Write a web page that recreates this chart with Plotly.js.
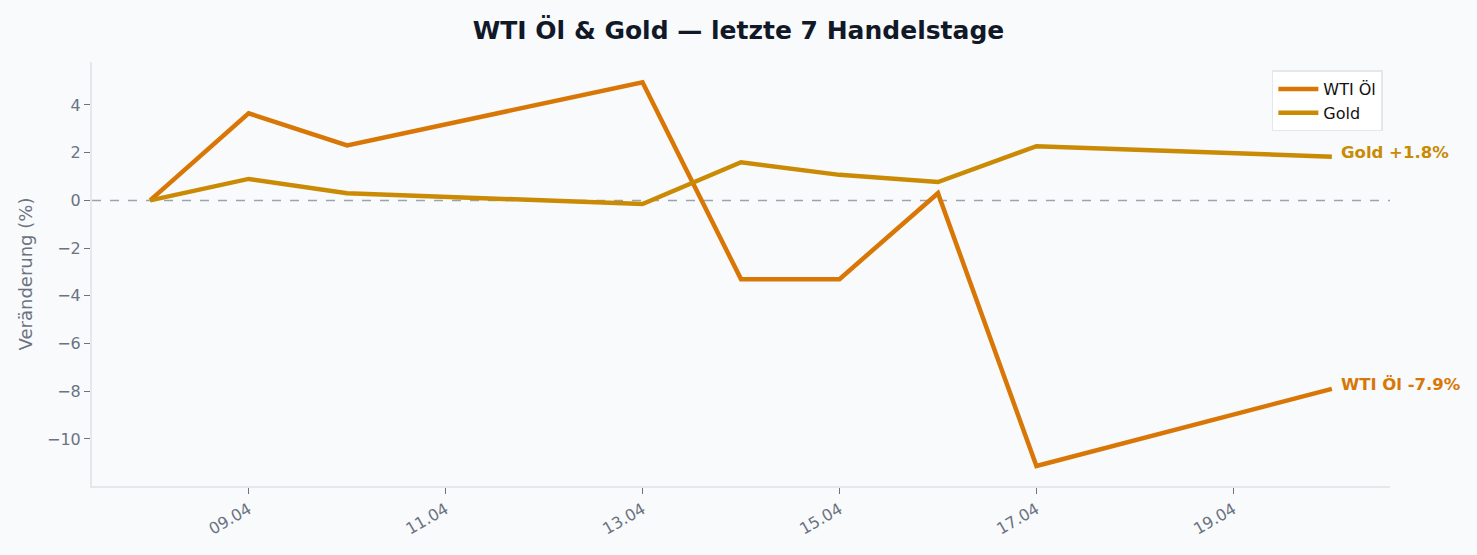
<!DOCTYPE html>
<html>
<head>
<meta charset="utf-8">
<script src="https://cdn.plot.ly/plotly-3.0.1.min.js"></script>
<style>
  body { margin: 0; background: #f8fafc; }
  #chart { width: 1477px; height: 555px; }
</style>
</head>
<body>
<div id="chart"></div>
<script>
// Handelstage (April)
const days = ['2025-04-08', '2025-04-09', '2025-04-10', '2025-04-13', '2025-04-14',
              '2025-04-15', '2025-04-16', '2025-04-17', '2025-04-20'];
// Veränderung in % seit Start
const oilChange  = [0, 3.65, 2.3, 4.95, -3.3, -3.3, 0.3, -11.13, -7.9];
const goldChange = [0, 0.9, 0.3, -0.15, 1.6, 1.07, 0.77, 2.27, 1.83];
const tickDays = ['2025-04-09', '2025-04-11', '2025-04-13', '2025-04-15', '2025-04-17', '2025-04-19'];
const tickText = ['09.04', '11.04', '13.04', '15.04', '17.04', '19.04'];

const oilColor = '#d97706';
const goldColor = '#ca8a04';
const grey = '#6b7280';

const traces = [
  { x: days, y: oilChange, name: 'WTI Öl', type: 'scatter', mode: 'lines',
    line: { color: oilColor, width: 4.5 } },
  { x: days, y: goldChange, name: 'Gold', type: 'scatter', mode: 'lines',
    line: { color: goldColor, width: 4.5 } }
];

const last = days.length - 1;
const fmt = v => (v >= 0 ? '+' : '') + v.toFixed(1) + '%';

const layout = {
  width: 1477,
  height: 555,
  paper_bgcolor: '#f8fafc',
  plot_bgcolor: '#f8fafc',
  font: { family: 'DejaVu Sans, sans-serif', color: grey, size: 15 },
  margin: { l: 92, r: 87, t: 62, b: 69 },
  title: {
    text: '<b>WTI Öl &amp; Gold — letzte 7 Handelstage</b>',
    font: { size: 25, color: '#111827' },
    x: 0.5, xanchor: 'center', y: 0.945, yanchor: 'middle'
  },
  xaxis: {
    type: 'date',
    range: ['2025-04-07 09:50', '2025-04-20 14:10'],
    tickvals: tickDays,
    ticktext: tickText,
    tickangle: -30,
    ticks: 'outside', ticklen: 6, tickcolor: grey,
    showgrid: false, zeroline: false,
    showline: true, linecolor: '#e5e7eb', linewidth: 2,
    tickfont: { size: 16, color: grey }
  },
  yaxis: {
    range: [-11.97, 5.8],
    tickvals: [-10, -8, -6, -4, -2, 0, 2, 4],
    ticktext: ['−10', '−8', '−6', '−4', '−2', '0', '2', '4'],
    ticks: 'outside', ticklen: 6, tickcolor: grey,
    showgrid: false, zeroline: false,
    showline: true, linecolor: '#e5e7eb', linewidth: 2,
    tickfont: { size: 16, color: grey },
    title: { text: 'Veränderung (%)', font: { size: 18, color: grey }, standoff: 10 }
  },
  shapes: [{
    type: 'line', xref: 'paper', yref: 'y', x0: 0, x1: 1, y0: 0, y1: 0,
    line: { color: '#9ca3af', width: 1.5, dash: 'dash' }, layer: 'below'
  }],
  annotations: [
    { x: days[last], y: goldChange[last], xref: 'x', yref: 'y',
      text: '<b>Gold ' + fmt(goldChange[last]) + '</b>', showarrow: false,
      xanchor: 'left', xshift: 7, yshift: 4, font: { size: 16.5, color: goldColor } },
    { x: days[last], y: oilChange[last], xref: 'x', yref: 'y',
      text: '<b>WTI Öl ' + fmt(oilChange[last]) + '</b>', showarrow: false,
      xanchor: 'left', xshift: 7, yshift: 4, font: { size: 16.5, color: oilColor } }
  ],
  legend: {
    x: 0.9945, y: 0.98, xanchor: 'right', yanchor: 'top',
    bgcolor: '#ffffff', bordercolor: '#e5e7eb', borderwidth: 1.5,
    itemwidth: 40,
    font: { size: 16, color: '#111111' }
  },
  showlegend: true
};

Plotly.newPlot('chart', traces, layout, { displayModeBar: false });
</script>
</body>
</html>
